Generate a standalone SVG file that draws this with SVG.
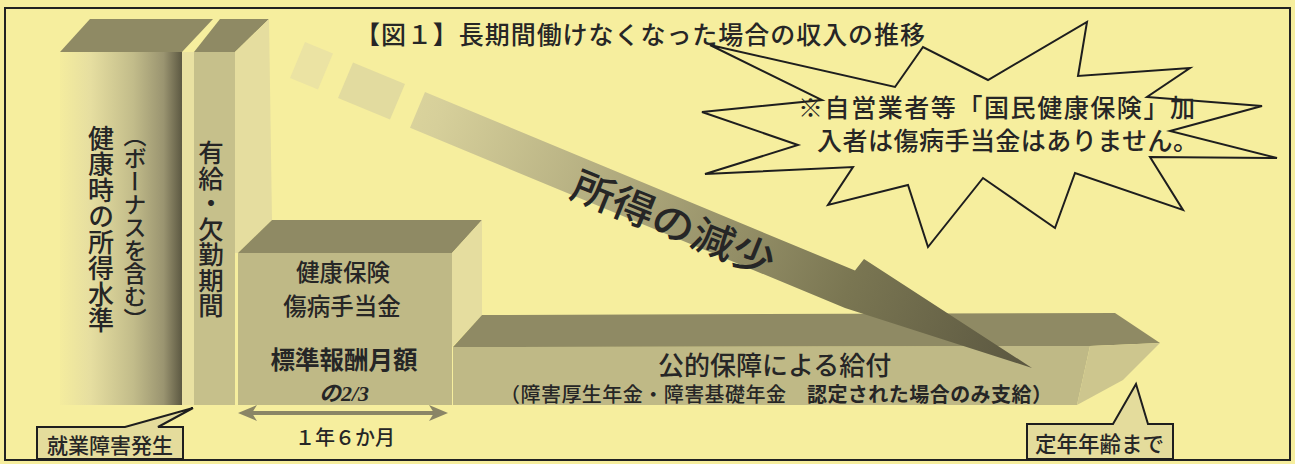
<svg xmlns="http://www.w3.org/2000/svg" width="1295" height="464" viewBox="0 0 1295 464">
<style>
  .jp { font-family: "Noto Sans CJK JP", "Noto Sans", sans-serif; fill: #262626; font-weight: 500; }
  .vt { writing-mode: vertical-rl; }
  .b { font-weight: bold; }
  .top { fill: #8f8a64; }
  .front { fill: #bfb986; }
  .side { fill: #e5dd9f; }
  .ln { fill: none; stroke: #1e1e1e; stroke-width: 2; stroke-linejoin: miter; }
  .box { fill: #e4dc9c; stroke: #1e1e1e; stroke-width: 2; }
</style>
<defs>
  <linearGradient id="bar1g" x1="60" y1="0" x2="182" y2="0" gradientUnits="userSpaceOnUse">
    <stop offset="0" stop-color="#f4ec9e"/>
    <stop offset="0.25" stop-color="#e6dea0"/>
    <stop offset="0.6" stop-color="#c2bc8a"/>
    <stop offset="0.85" stop-color="#9a9470"/>
    <stop offset="1" stop-color="#5c5842"/>
  </linearGradient>
  <linearGradient id="arrowg" x1="290" y1="60" x2="1032" y2="368" gradientUnits="userSpaceOnUse">
    <stop offset="0" stop-color="#ece4a4"/>
    <stop offset="0.2" stop-color="#d6cf9a"/>
    <stop offset="0.45" stop-color="#aea87c"/>
    <stop offset="0.75" stop-color="#7a7652"/>
    <stop offset="1" stop-color="#5a5640"/>
  </linearGradient>
</defs>
<rect x="0" y="0" width="1295" height="464" fill="#f6ee9e"/>
<rect x="5" y="8" width="1285" height="452" fill="#f6ee9e" stroke="#222" stroke-width="2"/>

<g id="bar-healthy">
  <rect x="60" y="52" width="122" height="353" fill="url(#bar1g)"/>
  <polygon class="top" points="60,52 182,52 213,19 90,19"/>
  <text class="jp vt" x="101" y="125" font-size="26">健康時の所得水準</text>
  <text class="jp vt" x="135" y="124" font-size="23">（ボーナスを含む）</text>
</g>

<g id="bar-paid-leave">
  <rect x="182" y="52" width="12" height="353" fill="#e9e1a2"/>
  <rect x="194" y="52" width="41" height="353" fill="#c6c08b"/>
  <polygon class="top" points="194,52 235,52 269,19 220,19"/>
  <polygon class="side" points="235,52 269,19 272,220 238,253 235,253"/>
  <text class="jp vt" x="211" y="140" font-size="25.5">有給・欠勤期間</text>
</g>

<g id="block-sickness">
  <rect class="front" x="238" y="253" width="214" height="152"/>
  <polygon class="top" points="238,253 452,253 482,220 272,220"/>
  <polygon class="side" points="452,253 482,220 482,315 452,347"/>
  <text class="jp" font-size="23.5" text-anchor="middle"><tspan x="343" y="281">健康保険</tspan><tspan x="342" y="315">傷病手当金</tspan></text>
  <text class="jp b" text-anchor="middle"><tspan x="344" y="369" font-size="24.5">標準報酬月額</tspan><tspan x="344" y="401" font-size="22" font-style="italic">の<tspan font-family="'Liberation Serif', serif">2/3</tspan></tspan></text>
</g>

<g id="block-public">
  <polygon class="front" points="453,347 1090,346 1077,405 453,405"/>
  <polygon class="top" points="453,347 1090,346 1160,343 1115,313 482,315"/>
  <polygon fill="#cdc68e" points="1090,346 1160,343 1123,380 1077,405"/>
  <text class="jp" x="658" y="375" font-size="26">公的保障による給付</text>
  <text class="jp" x="500" y="402" font-size="20" textLength="552" lengthAdjust="spacing">（障害厚生年金・障害基礎年金　<tspan class="b">認定された場合のみ支給）</tspan></text>
</g>

<g id="arrow-decrease">
  <polygon fill="#ebe3a3" points="305,42 333,53.6 318,89.6 290,78"/>
  <polygon fill="#e2db9f" points="353,62.4 405,84 390,119.5 338,97.9"/>
  <polygon fill="url(#arrowg)" points="425,92 855,270.5 864,259 1032,368 845,308 410,127.8"/>
  <text class="jp" x="0" y="0" font-size="40" text-anchor="middle" transform="translate(668,237) rotate(22)" textLength="215" lengthAdjust="spacingAndGlyphs">所得の減少</text>
</g>

<g id="connectors">
  <g id="duration-arrow">
    <line x1="252" y1="413" x2="434" y2="413" stroke="#8a8566" stroke-width="4"/>
    <polygon fill="#8a8566" points="238,413 257,405 252,413 257,421"/>
    <polygon fill="#8a8566" points="448,413 429,405 434,413 429,421"/>
  </g>
</g>
<text class="jp" x="295" y="445" font-size="20">１年６か月</text>

<g id="starburst">
  <polygon class="ln" points="710,45 822,100 702,112 798,145 705,174 853,167 828,205 908,185 928,247 983,178 1055,228 1075,173 1183,210 1150,157 1277,158 1170,131 1262,106 1147,97 1190,68 1078,76 1087,22 988,80 923,47 895,87"/>
  <text class="jp" font-size="25"><tspan x="798" y="117" textLength="397" lengthAdjust="spacing">※自営業者等「国民健康保険」加</tspan><tspan x="817" y="150" textLength="381" lengthAdjust="spacing">入者は傷病手当金はありません。</tspan></text>
</g>

<g id="title">
  <text class="jp" x="355" y="44" font-size="25" textLength="570" lengthAdjust="spacing">【図１】長期間働けなくなった場合の収入の推移</text>
</g>

<g id="callout-onset">
  <path class="box" d="M37,427 L125,427 L193,408 L158,427 L183,427 L183,459 L37,459 Z"/>
  <text class="jp" x="47" y="453" font-size="21">就業障害発生</text>
</g>

<g id="callout-retire">
  <path class="box" d="M1027,424 L1113,424 L1136,384 L1148,424 L1173,424 L1173,459 L1027,459 Z"/>
  <text class="jp" x="1035" y="452" font-size="21.5">定年年齢まで</text>
</g>
</svg>
